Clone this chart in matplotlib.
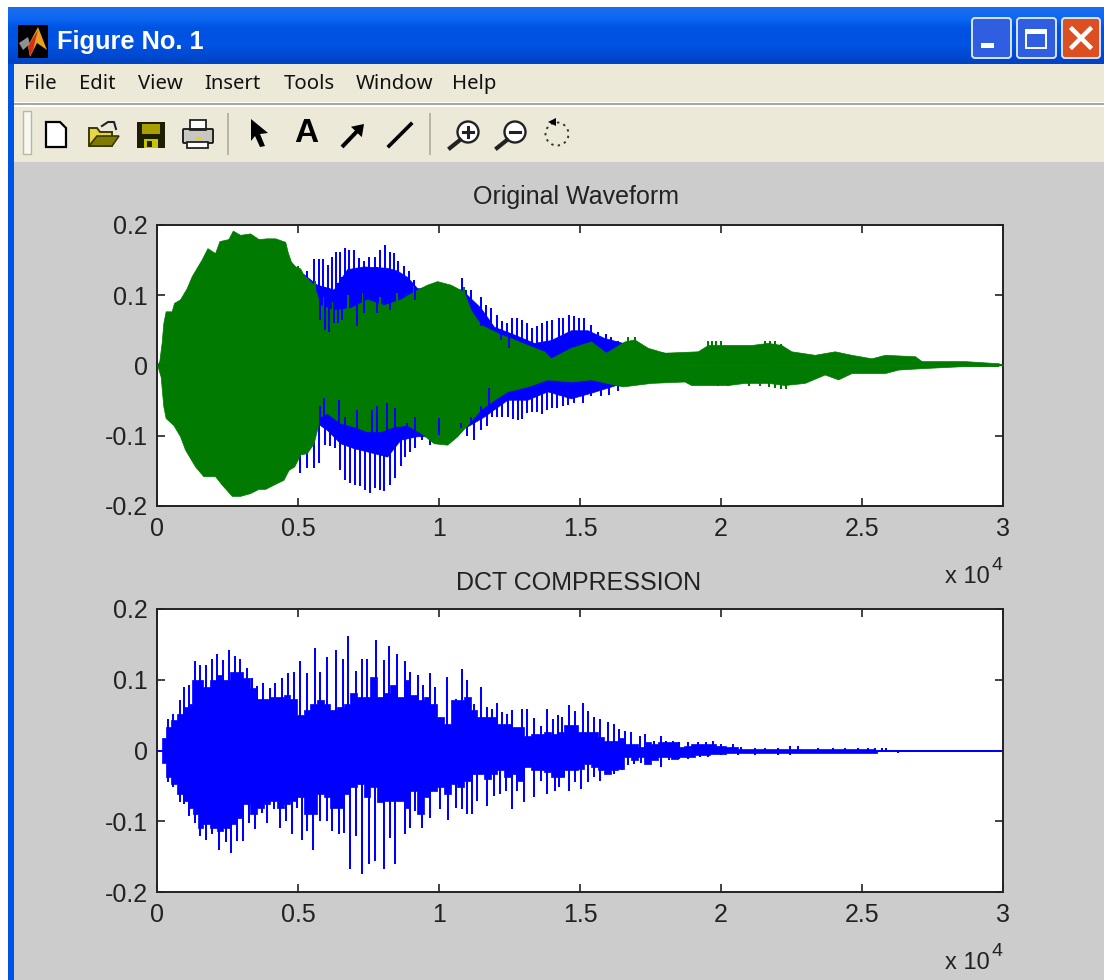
import numpy as np
import matplotlib
matplotlib.use("Agg")
import matplotlib.pyplot as plt
from matplotlib.patches import Rectangle, Polygon, Circle, FancyBboxPatch, FancyArrow
from matplotlib.lines import Line2D

# ---------- text ----------
window_title = "Figure No. 1"
menu_items = ["File", "Edit", "View", "Insert", "Tools", "Window", "Help"]
title_top = "Original Waveform"
title_bottom = "DCT COMPRESSION"
xtick_vals = [0, 5000, 10000, 15000, 20000, 25000, 30000]
xtick_labels = ["0", "0.5", "1", "1.5", "2", "2.5", "3"]
ytick_vals = [-0.2, -0.1, 0, 0.1, 0.2]
ytick_labels = ["-0.2", "-0.1", "0", "0.1", "0.2"]

# ---------- original waveform, green envelope ----------
green_hi_x = [0,71,154,213,296,510,593,806,1043,1221,1398,1576,1778,2050,2204,2524,2678,2939,3294,3591,3887,4183,4539,4622,4740,4894,5072,5190,5546,5783,6257,6849,7442,8034,8627,9219,9575,9930,10404,10878,11115,11471,11827,12182,12537,13130,13722,13966,14677,15388,15921,16573,16928,17403,17995,19180,19536,20010,21076,21669,22143,22498,23327,24039,24631,25342,25816,26883,27120,28660,29845,30000]
green_hi_y = [.001,.006,.032,.060,.077,.077,.089,.094,.110,.127,.139,.151,.167,.160,.177,.180,.192,.186,.188,.180,.181,.181,.176,.162,.148,.141,.138,.129,.115,.086,.079,.082,.094,.086,.094,.108,.115,.120,.115,.105,.079,.058,.051,.044,.039,.029,.020,.010,.025,.034,.018,.034,.037,.025,.018,.020,.029,.029,.029,.032,.029,.020,.015,.020,.015,.010,.015,.013,.006,.006,.003,.001]
green_lo_x = [0,119,213,296,569,806,984,1161,1339,1635,2050,2287,2643,2939,3294,3591,3828,4124,4479,4657,4858,5072,5309,5546,5783,6020,6494,6968,7442,7916,8390,8864,9338,9812,10286,10641,10997,11471,11945,12419,13130,13841,14677,15388,16514,17521,18706,18943,20247,20839,21669,22261,22972,23683,24157,24631,25342,25816,26290,27120,28660,29845]
green_lo_y = [0,-.016,-.058,-.075,-.085,-.101,-.120,-.132,-.144,-.158,-.158,-.170,-.186,-.186,-.182,-.176,-.176,-.170,-.163,-.149,-.144,-.127,-.125,-.111,-.073,-.068,-.082,-.087,-.094,-.094,-.087,-.085,-.096,-.111,-.113,-.101,-.085,-.063,-.049,-.037,-.030,-.020,-.023,-.020,-.030,-.025,-.023,-.028,-.028,-.025,-.025,-.028,-.025,-.013,-.020,-.011,-.011,-.011,-.006,-.004,-.001,-.001]
green_spike_x = [5000,5300,5600,5900,6250,6750,7300,7900,8500,9100,10900,16700,16950,19540,19690,19830,20010,21550,21730,21930,22140]
green_spike_y = [.142,.125,.120,.097,.090,.100,.103,.098,.103,.113,.112,.040,.040,.035,.034,.034,.034,.034,.034,.034,.030]
green_dip_x = [19900,20250,21000,21400,21700,21930,22140,22300]
green_dip_y = [-.030,-.030,-.029,-.029,-.031,-.032,-.033,-.033]

# ---------- original waveform, blue ----------
blue_hi_x = [0,2000,4500,5190,5664,6257,6731,7323,8153,8508,8864,9219,10795,11471,11945,12656,13367,13966,14677,15270,15862,16514,17521,18230,18500]
blue_hi_y = [0,.100,.120,.130,.115,.108,.137,.141,.139,.135,.126,.110,.108,.082,.055,.044,.032,.036,.050,.050,.039,.032,.020,.017,.002]
blue_lo_x = [0,2000,4500,5664,6020,6494,6968,7679,8153,8627,9219,9812,10997,11589,12419,13130,13841,14677,15388,16514,17500,18000]
blue_lo_y = [0,-.100,-.120,-.082,-.092,-.111,-.118,-.125,-.130,-.106,-.101,-.101,-.087,-.073,-.049,-.049,-.037,-.047,-.039,-.025,-.015,-.002]
blue_up_x = [5309,5546,5724,5878,6044,6198,6340,6494,6648,6790,6992,7146,7323,7501,7738,7916,8094,8271,8390,8544,8745,8923,9101,10795,10938,11139,11471,11649,11827,12063,12241,12419,12597,12774,12952,13130,13308,13485,13663,13841,14019,14256,14381,14618,14796,14973,15151,15388,15625,15921,16099,16336]
blue_up_y = [.134,.151,.151,.151,.143,.155,.162,.162,.167,.165,.165,.153,.148,.155,.155,.165,.171,.162,.160,.148,.141,.134,.122,.124,.108,.108,.098,.086,.082,.072,.063,.060,.067,.067,.065,.060,.053,.056,.060,.063,.065,.067,.067,.072,.070,.067,.067,.058,.048,.044,.041,.034]
blue_dn_x = [5072,5309,5546,5724,5960,6138,6316,6494,6672,6826,7003,7181,7359,7537,7738,7916,8058,8248,8449,8662,8805,8982,9160,9397,9693,10997,11234,11471,11708,11886,12063,12241,12442,12620,12798,12952,13130,13308,13485,13663,13841,14019,14197,14381,14558,14796,15092,15388,15744,16040,16336,16514]
blue_dn_y = [-.153,-.146,-.146,-.139,-.113,-.115,-.118,-.149,-.163,-.168,-.170,-.172,-.177,-.182,-.175,-.177,-.179,-.170,-.161,-.144,-.130,-.123,-.118,-.106,-.113,-.101,-.106,-.092,-.087,-.073,-.073,-.073,-.073,-.077,-.078,-.077,-.068,-.066,-.066,-.070,-.063,-.061,-.061,-.058,-.056,-.053,-.053,-.044,-.043,-.042,-.037,-.025]
# where the blue trace shows through gaps in the green one
gap_up_x = [5783,5960,6079,6257,6399,6553,7086,7323,7797,8271,9160,11471,12182,12478]
gap_up_y = [.065,.050,.047,.060,.060,.065,.056,.075,.075,.079,.093,.056,.036,.025]
gap_dn_x = [5783,5925,6435,6672,7086,7619,7797,8153,8449,8864,9160,9990,10760,11115,11471,11768]
gap_dn_y = [-.058,-.047,-.049,-.073,-.063,-.063,-.058,-.054,-.061,-.082,-.073,-.075,-.082,-.073,-.058,-.032]

# ---------- DCT compression ----------
dct_hi_x = [95,213,391,593,806,984,1161,1280,1517,1754,1991,2228,2465,2702,2939,3176,3413,3650,3887,4124,4361,4598,4835,5072,5309,5546,5783,6020,6257,6494,6731,6968,7205,7442,7679,7916,8153,8390,8627,8864,9101,9338,9575,9812,10049,10286,10523,10760,10997,11234,11471,11708,11945,12182,12419,12656,12893,13130,13367,13604,13841,14078,14321,14558,14796,15033,15270,15507,15744,15980,16217,16454,16692,16928,17165,17403,17640,17877,18113,18350,18587,18825,19062,19299,19654,20010,20365,20839,30000]
dct_hi_y = [0,.017,.033,.043,.052,.062,.066,.100,.100,.090,.100,.107,.100,.111,.111,.102,.088,.073,.073,.076,.076,.078,.073,.050,.057,.066,.071,.066,.057,.062,.066,.081,.076,.076,.104,.076,.081,.092,.076,.100,.078,.071,.076,.066,.047,.038,.071,.071,.076,.057,.047,.047,.047,.038,.038,.033,.033,.021,.024,.024,.026,.024,.026,.036,.036,.026,.026,.026,.019,.014,.014,.017,.009,.009,.005,.012,.009,.012,.012,.012,.005,.007,.009,.009,.009,.007,.005,.002,.001]
dct_lo_x = [95,213,391,569,806,984,1161,1339,1517,1754,1991,2228,2465,2702,2939,3176,3413,3650,3887,4124,4361,4598,4835,5072,5309,5546,5783,6020,6257,6494,6731,6968,7205,7442,7679,7916,8153,8390,8627,8864,9101,9338,9575,9812,10049,10286,10523,10760,10997,11234,11471,11708,11945,12182,12419,12656,12893,13130,13367,13604,13841,14078,14321,14558,14796,15033,15270,15507,15744,15980,16217,16454,16692,16928,17165,17403,17640,17877,18113,18350,18587,18825,19299,19891,20484,21076,30000]
dct_lo_y = [0,-.017,-.038,-.047,-.062,-.071,-.081,-.090,-.109,-.104,-.109,-.114,-.109,-.104,-.095,-.076,-.090,-.081,-.076,-.071,-.081,-.076,-.071,-.066,-.090,-.090,-.062,-.066,-.081,-.081,-.062,-.052,-.047,-.066,-.052,-.073,-.071,-.071,-.071,-.081,-.057,-.090,-.066,-.057,-.052,-.062,-.047,-.052,-.043,-.033,-.033,-.040,-.033,-.028,-.038,-.033,-.043,-.024,-.028,-.028,-.031,-.038,-.038,-.028,-.028,-.026,-.019,-.024,-.028,-.033,-.028,-.026,-.009,-.014,-.009,-.019,-.014,-.009,-.009,-.012,-.009,-.009,-.007,-.005,-.004,-.003,-.001]
dct_up_x = [391,569,806,948,1138,1339,1517,1730,1932,2133,2346,2560,2761,2939,3176,3354,3531,3768,3982,4183,4420,4633,4835,5048,5309,5581,5783,6020,6352,6577,6778,7063,7264,7442,7750,8034,8224,8508,8805,8982,9243,9433,9693,9871,10286,10582,10795,10997,11234,11471,11708,11886,12040,12241,12419,12597,12952,13106,13367,13604,13841,14025,14200,14345,14618,14819,15092,15293,15507,15720,15980,16194,16395,16597,16810,17142,17308,17640,17877,18054,18291,18528,18825,19180,19476,19713,20010,20424,20720,21195,21550,22024,22439,22735,23446,23979,24394,24868,25224,25460,25698,25852]
dct_up_y = [.045,.052,.071,.090,.092,.126,.121,.121,.130,.137,.128,.142,.133,.130,.116,.102,.091,.095,.088,.095,.103,.109,.111,.126,.109,.145,.111,.132,.142,.129,.162,.113,.129,.129,.156,.128,.148,.137,.127,.111,.107,.092,.109,.090,.104,.073,.115,.100,.066,.090,.062,.059,.067,.055,.052,.057,.059,.059,.046,.034,.059,.045,.050,.047,.064,.056,.067,.056,.048,.045,.040,.037,.031,.028,.026,.021,.024,.014,.020,.013,.014,.012,.012,.012,.012,.013,.009,.009,.005,.004,.004,.004,.006,.006,.004,.004,.004,.004,.004,.004,.004,.004]
dct_dn_x = [391,569,806,948,1138,1339,1517,1730,1932,2204,2441,2619,2844,3034,3236,3472,3709,3887,4124,4337,4550,4776,4954,5131,5309,5522,5783,6020,6198,6435,6612,6849,7063,7264,7501,7738,8034,8248,8449,8781,8982,9160,9397,9693,10025,10310,10582,10819,10997,11175,11352,11684,11945,12146,12360,12597,12774,13011,13367,13604,13841,14108,14262,14416,14618,14819,15033,15293,15507,15720,15980,16217,16478,16692,16928,17165,17462,17877,18173,18528,18825,19239,19536,20010,20602,21195,21550,22024,22439,22972,23920,24631,26289]
dct_dn_y = [-.045,-.052,-.073,-.076,-.092,-.102,-.121,-.126,-.118,-.140,-.130,-.145,-.128,-.128,-.102,-.111,-.088,-.102,-.083,-.109,-.100,-.118,-.081,-.126,-.114,-.140,-.100,-.100,-.114,-.118,-.116,-.168,-.121,-.175,-.161,-.156,-.167,-.123,-.161,-.118,-.109,-.085,-.109,-.095,-.083,-.098,-.081,-.083,-.090,-.090,-.071,-.078,-.064,-.062,-.057,-.082,-.057,-.073,-.066,-.043,-.062,-.057,-.052,-.038,-.057,-.045,-.055,-.045,-.038,-.043,-.031,-.033,-.028,-.021,-.019,-.017,-.019,-.023,-.014,-.012,-.012,-.009,-.009,-.006,-.006,-.006,-.004,-.006,-.007,-.004,-.004,-.004,-.004]

# ---------- colours ----------
GREY = "#CCCCCC"
PANEL = "#ECE9D8"
XP_BLUE = "#0054E3"
TRACE_BLUE = "#0000FF"
TRACE_GREEN = "#007A00"
INK = "#222222"
FONT = "Liberation Sans"
UI = "Noto Sans"

W, H = 1104, 980
fig = plt.figure(figsize=(W / 100, H / 100), dpi=100, facecolor="white")

# ---------- window chrome (pixel coordinates) ----------
ui = fig.add_axes([0, 0, 1, 1], zorder=0)
ui.set_xlim(0, W)
ui.set_ylim(H, 0)
ui.axis("off")

def rect(x0, y0, x1, y1, color, z=1, **kw):
    ui.add_patch(Rectangle((x0, y0), x1 - x0, y1 - y0, facecolor=color, edgecolor="none", zorder=z, **kw))

rect(8, 64, W, H, GREY)
rect(8, 60, 14, H, XP_BLUE, z=2)
rect(14, 64, W, 162, PANEL, z=2)
rect(14, 102, W, 103.5, "#FFFFFF", z=3)
rect(14, 103.5, W, 105.5, "#A9A79B", z=3)
rect(14, 105.5, W, 107, "#FFFFFF", z=3)

grad = np.array([[[0.10, 0.42, 0.93]], [[0.05, 0.40, 0.95]], [[0.00, 0.33, 0.89]], [[0.00, 0.32, 0.88]],
                 [[0.00, 0.33, 0.90]], [[0.00, 0.30, 0.85]], [[0.00, 0.27, 0.78]]])
im = ui.imshow(grad, extent=(8, W, 64, 7), aspect="auto", interpolation="bilinear", zorder=2)
ui.set_xlim(0, W)
ui.set_ylim(H, 0)

# title icon
rect(18, 25, 48, 58, "#000000", z=4)
ui.add_patch(Polygon([(38, 27), (47, 50), (37, 43), (30, 57), (28, 46)], facecolor="#E8A020", edgecolor="none", zorder=5))
ui.add_patch(Polygon([(38, 30), (33, 50), (30, 56), (28, 46)], facecolor="#D03018", edgecolor="none", zorder=6))
ui.add_patch(Polygon([(19, 43), (28, 37), (30, 44), (23, 50)], facecolor="#909090", edgecolor="none", zorder=6))
ui.text(57, 49, window_title, color="white", family=FONT, fontweight="bold", fontsize=18.3, va="baseline", ha="left", zorder=6)

# title-bar buttons
for x0, x1, col in [(972, 1011, "#2F5FE0"), (1017, 1056, "#2F5FE0"), (1062, 1100, "#DC4F22")]:
    ui.add_patch(FancyBboxPatch((x0 + 3, 21), x1 - x0 - 6, 34, boxstyle="round,pad=3", facecolor=col, edgecolor="#D8E4FA", linewidth=1.4, zorder=5))
rect(981, 43, 994, 48, "white", z=6)
ui.add_patch(Rectangle((1026, 30), 20, 18, facecolor="none", edgecolor="white", linewidth=1.4, zorder=6))
rect(1026, 29, 1046, 34, "white", z=6)
ui.add_line(Line2D([1072, 1090], [29, 47], color="white", lw=3.2, zorder=6))
ui.add_line(Line2D([1072, 1090], [47, 29], color="white", lw=3.2, zorder=6))

# menu
menu_x = [24, 79, 138, 204, 284, 356, 452]
for x, label in zip(menu_x, menu_items):
    ui.text(x, 89, label, family=UI, fontsize=14.6, color="#111111", va="baseline", ha="left", zorder=5)

# toolbar furniture
rect(23, 111, 31, 154, "#F8F7F0", z=3)
ui.add_patch(Rectangle((23, 111), 8, 43, facecolor="none", edgecolor="#B8B6A8", linewidth=1, zorder=4))
rect(227, 113, 229, 155, "#B8B6A8", z=3)
rect(429, 113, 431, 155, "#B8B6A8", z=3)

# new document
ui.add_patch(Polygon([(46, 122), (60, 122), (66, 128), (66, 147), (46, 147)], facecolor="white", edgecolor="black", linewidth=1.6, zorder=5))
# open folder
ui.add_patch(Polygon([(89, 128), (97, 128), (100, 132), (112, 132), (112, 146), (89, 146)], facecolor="#E8D44A", edgecolor="#3A3A00", linewidth=1.4, zorder=5))
ui.add_patch(Polygon([(89, 146), (97, 136), (119, 136), (112, 146)], facecolor="#807A00", edgecolor="#3A3A00", linewidth=1.2, zorder=6))
ui.add_line(Line2D([102, 108, 114, 116], [126, 122, 122, 129], color="#222222", lw=1.5, zorder=6))
# floppy
rect(137, 122, 165, 148, "#1E1E00", z=5)
rect(142, 124, 160, 134, "#A8A000", z=6)
rect(144, 139, 158, 148, "#C8C400", z=6)
rect(147, 141, 152, 147, "#1E1E00", z=7)
# printer
rect(190, 120, 206, 130, "white", z=5)
ui.add_patch(Rectangle((190, 120), 16, 10, facecolor="none", edgecolor="#222222", linewidth=1.3, zorder=6))
ui.add_patch(FancyBboxPatch((184, 130), 28, 12, boxstyle="round,pad=1", facecolor="#C8C8C0", edgecolor="#222222", linewidth=1.4, zorder=5))
rect(187, 142, 208, 148, "white", z=5)
ui.add_patch(Rectangle((187, 142), 21, 6, facecolor="none", edgecolor="#222222", linewidth=1.3, zorder=6))
rect(195, 137, 202, 140, "#E8D020", z=7)
# pointer
ui.add_patch(Polygon([(251, 119), (268, 133), (260, 134), (265, 146), (260, 147), (255, 136), (251, 141)], facecolor="black", edgecolor="none", zorder=5))
# text tool
ui.text(306, 134, "A", family=FONT, fontweight="bold", fontsize=24, color="black", ha="center", va="center", zorder=5)
# arrow and line tools
ui.add_patch(FancyArrow(342, 147, 22, -23, width=4, head_width=15, head_length=11, length_includes_head=True, facecolor="black", edgecolor="none", zorder=5))
ui.add_line(Line2D([389, 411], [146, 124], color="black", lw=2.6, zorder=5))
# zoom tools
for cx, sign in [(468, "+"), (515, "-")]:
    ui.add_patch(Circle((cx, 132), 10.5, facecolor="white", edgecolor="#222222", linewidth=1.7, zorder=5))
    ui.add_line(Line2D([cx - 8, cx - 18], [140, 148], color="#222222", lw=3, zorder=5))
    ui.add_line(Line2D([cx - 5, cx + 5], [132, 132], color="#222222", lw=2.2, zorder=6))
    if sign == "+":
        ui.add_line(Line2D([cx, cx], [127, 137], color="#222222", lw=2.2, zorder=6))
# rotate tool
ui.add_patch(Circle((557, 134), 11.5, facecolor="none", edgecolor="#333333", linewidth=1.4, linestyle=(0, (1.2, 2.2)), zorder=5))
ui.add_patch(Polygon([(548, 122), (556, 118), (556, 126)], facecolor="black", edgecolor="none", zorder=6))

# ---------- plots ----------
def make_axes(top, bottom):
    left, right = 157.3, 1002.8
    ax = fig.add_axes([left / W, 1 - bottom / H, (right - left) / W, (bottom - top) / H], zorder=2)
    ax.set_xlim(0, 30000)
    ax.set_ylim(-0.2, 0.2)
    ax.set_xticks(xtick_vals, xtick_labels)
    ax.set_yticks(ytick_vals, ytick_labels)
    ax.tick_params(direction="in", length=6, width=1.2, top=True, right=True, color=INK)
    ax.tick_params(axis="x", pad=8, labelsize=18, labelcolor=INK)
    ax.tick_params(axis="y", pad=7, labelsize=18, labelcolor=INK)
    for lab in ax.get_xticklabels() + ax.get_yticklabels():
        lab.set_family(FONT)
    for s in ax.spines.values():
        s.set_linewidth(1.4)
        s.set_color(INK)
    return ax

LW = 1.45
ax1 = make_axes(225, 505.7)
ax1.fill_between(blue_hi_x, blue_hi_y, 0, color=TRACE_BLUE, lw=0.5, zorder=2)
ax1.fill_between(blue_lo_x, blue_lo_y, 0, color=TRACE_BLUE, lw=0.5, zorder=2)
ax1.vlines(blue_up_x, 0, blue_up_y, color=TRACE_BLUE, lw=LW, zorder=2)
ax1.vlines(blue_dn_x, blue_dn_y, 0, color=TRACE_BLUE, lw=LW, zorder=2)
ax1.fill_between(green_hi_x, green_hi_y, 0, color=TRACE_GREEN, lw=0.5, zorder=3)
ax1.fill_between(green_lo_x, green_lo_y, 0, color=TRACE_GREEN, lw=0.5, zorder=3)
ax1.vlines(green_spike_x, 0, green_spike_y, color=TRACE_GREEN, lw=LW, zorder=3)
ax1.vlines(green_dip_x, green_dip_y, 0, color=TRACE_GREEN, lw=LW, zorder=3)
ax1.vlines(gap_up_x, gap_up_y, np.interp(gap_up_x, blue_hi_x, blue_hi_y), color=TRACE_BLUE, lw=LW, zorder=4)
ax1.vlines(gap_dn_x, np.interp(gap_dn_x, blue_lo_x, blue_lo_y), gap_dn_y, color=TRACE_BLUE, lw=LW, zorder=4)
ax1.set_title(title_top, family=FONT, fontsize=18, color=INK, pad=15, x=0.4955)

ax2 = make_axes(609, 892)
ax2.fill_between(dct_hi_x, dct_hi_y, 0, step="mid", color=TRACE_BLUE, lw=0.5, zorder=2)
ax2.fill_between(dct_lo_x, dct_lo_y, 0, step="mid", color=TRACE_BLUE, lw=0.5, zorder=2)
ax2.vlines(dct_up_x, 0, dct_up_y, color=TRACE_BLUE, lw=LW, zorder=2)
ax2.vlines(dct_dn_x, dct_dn_y, 0, color=TRACE_BLUE, lw=LW, zorder=2)
ax2.plot([0, 30000], [0, 0], color=TRACE_BLUE, lw=LW, zorder=2)
ax2.set_title(title_bottom, family=FONT, fontsize=18, color=INK, pad=14, x=0.498)

# axis multipliers
for y_base, y_exp in [(577, 565), (963, 951)]:
    ui.text(945, y_base, "x 10", family=FONT, fontsize=17, color=INK, va="center", ha="left", zorder=5)
    ui.text(992, y_exp, "4", family=FONT, fontsize=14, color=INK, va="center", ha="left", zorder=5)

fig.savefig("out.png", dpi=100, facecolor="white")
